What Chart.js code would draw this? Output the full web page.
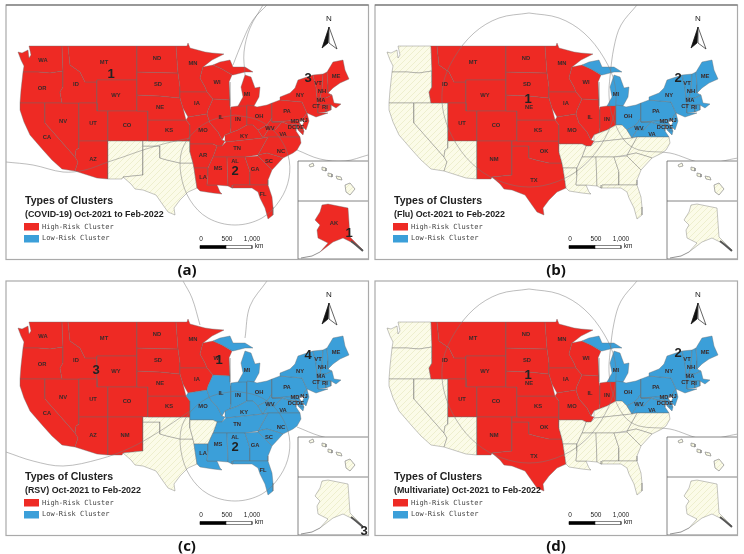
<!DOCTYPE html>
<html>
<head>
<meta charset="utf-8">
<title>Types of Clusters</title>
<script src="https://cdn.jsdelivr.net/npm/chart.js@4.4.0/dist/chart.umd.js"></script>
<style>
  html, body { margin: 0; background: #fff; }
  #page { position: relative; width: 744px; height: 554px; overflow: hidden; }
  canvas { position: absolute; filter: blur(0.3px); }
</style>
</head>
<body>
<div id="page">
  <canvas id="panelA" width="375" height="278" style="left:0;top:0"></canvas>
  <canvas id="panelB" width="375" height="278" style="left:369px;top:0"></canvas>
  <canvas id="panelC" width="375" height="278" style="left:0;top:276px"></canvas>
  <canvas id="panelD" width="375" height="278" style="left:369px;top:276px"></canvas>
</div>
<script>
// state outlines, in panel pixels
const WA = [[29,46],[62,46],[63,71],[50,73],[38,72],[23,72],[24,66],[21,60],[18,52],[22,53],[28,50],[29,58],[31,55]];
const OR = [[23,72],[38,72],[50,73],[63,71],[63,87],[60,92],[62,103],[45,103],[20,103],[21,90]];
const CA = [[20,103],[45,103],[45,123],[75,157],[78,162],[75,171],[62,169],[52,160],[43,150],[30,135],[24,122],[20,110]];
const NV = [[45,103],[62,103],[79,103],[79,148],[76,150],[75,157],[45,123]];
const ID = [[62,46],[68,46],[70,65],[80,72],[85,82],[97,82],[97,103],[62,103],[60,92],[63,87],[63,71]];
const MT = [[68,46],[137,46],[137,80],[97,80],[97,82],[85,82],[80,72],[70,65]];
const WY = [[97,80],[137,80],[137,111],[97,111]];
const UT = [[79,103],[97,103],[97,111],[108,111],[108,141],[79,141]];
const CO = [[108,111],[148,111],[148,141],[108,141]];
const AZ = [[79,141],[108,141],[108,179],[97,178],[75,171],[78,162],[75,157],[76,150],[79,148]];
const NM = [[108,141],[143,141],[143,175],[123,177],[122,179],[108,179]];
const TX = [[143,146],[160,146],[160,158],[167,160],[180,163],[193,163],[194,168],[197,188],[188,192],[180,200],[174,208],[175,215],[168,212],[163,205],[156,195],[143,190],[135,189],[131,184],[123,177],[143,175]];
const OK = [[143,141],[190,141],[190,152],[193,163],[180,163],[167,160],[160,158],[160,146],[143,146]];
const KS = [[148,120],[186,120],[190,125],[190,141],[148,141]];
const NE = [[137,95],[160,96],[180,98],[183,108],[186,120],[148,120],[148,111],[137,111]];
const SD = [[137,72],[178,73],[180,87],[180,98],[160,96],[137,95]];
const ND = [[137,46],[176,46],[178,73],[137,72]];
const MN = [[176,46],[187,46],[188,43],[190,48],[205,52],[212,53],[224,54],[212,60],[203,67],[200,78],[205,87],[207,92],[180,92],[180,87],[178,73]];
const IA = [[180,92],[207,92],[213,99],[208,110],[207,114],[188,117],[183,108],[180,98]];
const MO = [[188,117],[207,114],[210,123],[218,132],[222,140],[225,141],[222,146],[217,146],[213,144],[190,144],[190,125],[186,120]];
const WI = [[203,67],[213,65],[222,69],[232,75],[229,82],[230,100],[213,99],[207,92],[205,87],[200,78]];
const IL = [[213,99],[230,100],[230,106],[231,110],[231,128],[230,133],[225,135],[222,140],[218,132],[210,123],[207,114],[208,110]];
const IN = [[231,107],[238,106],[247,105],[247,125],[238,130],[230,133],[231,128]];
const MI_UP = [[213,65],[220,62],[230,60],[233,67],[245,67],[253,72],[245,72],[233,75],[232,75],[222,69]];
const MI_LOW = [[245,75],[251,77],[255,88],[260,87],[259,97],[254,106],[238,106],[243,97],[241,87]];
const OH = [[247,105],[254,106],[257,107],[267,105],[272,103],[272,118],[267,125],[258,130],[253,125],[247,125]];
const KY = [[225,141],[225,135],[230,133],[238,130],[247,125],[253,125],[258,130],[263,138],[226,142]];
const WV = [[258,130],[267,125],[272,118],[272,122],[282,122],[275,130],[268,130],[263,138]];
const PA = [[272,103],[280,100],[302,102],[307,113],[302,120],[272,122],[272,118]];
const NY = [[280,100],[280,97],[290,93],[295,88],[298,80],[313,75],[316,87],[317,98],[318,105],[318,113],[328,113],[316,117],[307,113],[302,102]];
const VT = [[313,75],[323,74],[322,90],[320,98],[317,98],[316,87]];
const NH = [[323,74],[327,72],[328,85],[328,93],[332,95],[326,98],[320,98],[322,90]];
const ME = [[327,72],[333,62],[343,60],[345,70],[349,79],[340,83],[333,88],[328,93],[328,85]];
const MA = [[317,98],[320,98],[326,98],[332,95],[334,103],[341,104],[336,108],[331,105],[326,105],[318,105]];
const CT = [[318,105],[326,105],[326,112],[318,113]];
const RI = [[326,105],[331,105],[331,110],[326,112]];
const NJ = [[307,113],[309,121],[306,130],[302,126],[305,120],[302,120]];
const DE = [[299,122],[302,126],[304,131],[300,131]];
const MD = [[272,122],[302,120],[299,122],[300,131],[304,131],[303,135],[298,130],[296,124],[290,125],[282,122]];
const DC = [[288,124],[291,124],[291,127],[288,127]];
const VA = [[263,138],[268,130],[275,130],[282,122],[290,125],[296,124],[296,131],[300,137],[268,137]];
const NC = [[268,137],[300,137],[301,143],[297,150],[293,153],[283,158],[277,156],[267,153],[258,155]];
const TN = [[222,146],[226,142],[263,138],[268,137],[258,155],[245,157],[213,157],[217,146]];
const AR = [[190,144],[213,144],[217,146],[213,157],[208,168],[194,168],[193,163],[190,152]];
const LA = [[194,168],[208,168],[208,175],[207,185],[217,185],[220,192],[222,194],[213,193],[200,191],[197,188]];
const MS = [[213,157],[227,157],[228,186],[217,185],[207,185],[208,175],[208,168]];
const AL = [[227,157],[245,157],[250,172],[250,185],[233,185],[232,188],[228,186]];
const GA = [[245,157],[258,156],[272,170],[268,180],[268,185],[250,185],[250,172]];
const SC = [[258,155],[267,153],[277,156],[283,158],[272,170],[258,156]];
const FL = [[232,188],[233,185],[250,185],[268,185],[272,197],[273,207],[273,215],[268,219],[265,208],[260,198],[258,192],[252,188]];
const AK = [[322,205],[328,204],[348,208],[350,237],[363,250],[353,243],[343,238],[333,242],[320,252],[328,243],[318,238],[317,230],[320,225],[315,220],[320,212]];
const HI_BIG = [[345,185],[350,183],[355,189],[350,195],[346,192]];
const HI_MAUI = [[336,176],[341,177],[342,180],[337,179]];
const HI_OAHU = [[328,173],[332,174],[332,177],[328,176]];
const HI_KAUAI = [[322,167],[326,168],[326,171],[322,170]];
const HI_NI = [[309,165],[313,163],[314,166],[310,167]];

const shapes = { WA, OR, CA, NV, ID, MT, WY, UT, CO, AZ, NM, TX, OK, KS, NE, SD, ND, MN, IA, MO, WI, IL, IN,
  MI_UP, MI_LOW, OH, KY, WV, PA, NY, VT, NH, ME, MA, CT, RI, NJ, DE, MD, DC, VA, NC, TN, AR, LA, MS, AL, GA, SC, FL, AK };
const hawaii = [HI_BIG, HI_MAUI, HI_OAHU, HI_KAUAI, HI_NI];

// which state falls in which cluster, per panel
const lowFlu = ['MI_UP','MI_LOW','OH','PA','NY','VT','NH','ME','MA','CT','RI','NJ','MD','DC','DE','WV','VA'];
const highFlu = ['MT','ID','WY','ND','SD','NE','MN','IA','WI','IL','IN','MO','KS','CO','UT','NM','OK','TX'];
const highCovid = Object.keys(shapes).filter(s => !['NM','TX','OK'].includes(s));
const highRsv = ['WA','OR','CA','NV','ID','MT','WY','UT','AZ','NM','CO','ND','SD','NE','KS','MN','IA','WI'];
const lowRsv = ['MI_UP','MI_LOW','IL','IN','OH','MO','KY','TN','MS','AL','GA','FL','SC','NC','VA','WV','PA','NY','VT','NH','ME','MA','CT','RI','NJ','MD','DC','DE','LA'];

// state abbreviations: name, x, y
const stateLabels = [['WA',43,60],['MT',104,62],['ND',157,58],['MN',193,63],['ME',336,76],['VT',318,83],['NH',322,91],
  ['MA',321,100],['CT',316,106],['RI',325,107],['NY',300,95],['OR',42,88],['ID',76,84],['WY',116,95],['SD',158,84],
  ['NE',160,107],['IA',197,103],['WI',217,82],['MI',247,94],['IL',221,117],['IN',238,119],['OH',259,116],['PA',287,111],
  ['MD',295,121],['NJ',304,120],['DC',292,127],['DE',300,127],['WV',270,128],['VA',283,134],['KY',244,136],['NV',63,121],
  ['UT',93,123],['CO',127,125],['KS',169,130],['MO',203,130],['CA',47,137],['AZ',93,159],['TN',237,148],['NC',281,151],
  ['AR',203,155],['MS',218,168],['AL',235,161],['SC',269,161],['GA',255,169],['LA',203,177],['FL',263,194],['AK',334,223],
  ['NM',125,159],['OK',175,151],['TX',165,180]];

// cluster numbers: text, x, y
const numbersA = [['1',111,74],['3',308,78],['2',235,171],['1',349,233]];
const numbersB = [['1',159,99],['2',309,78]];
const numbersC = [['1',219,84],['3',96,94],['4',308,79],['2',235,171],['3',364,255]];
const numbersD = [['1',159,99],['2',309,77]];

// thin buffer circles
const ringSouth = [[235,115],[258,120],[276,133],[288,155],[289,178],[280,200],[262,218],[235,225],[208,218],[190,200],[181,175],[182,150],[194,132],[212,120],[235,115]];
const arcWestA = [[6,162],[33,165],[63,172],[85,170],[108,162],[123,157],[143,150],[167,143],[190,138]];
const arcNorthA1 = [[267,5],[253,20],[243,40],[233,65]];
const arcNorthA2 = [[263,5],[250,28],[244,52],[245,75]];
const arcEastA = [[297,150],[320,159],[345,161],[368,155]];
const arcWestC = [[6,176],[33,185],[63,190],[100,183],[130,172],[157,157],[190,135]];
const arcNorthC1 = [[183,5],[192,22],[200,49]];
const arcNorthC2 = [[267,5],[250,30],[245,62]];
const arcEastC = [[297,151],[320,160],[345,165],[368,163]];
const ringMid = [[160,13],[190,18],[215,33],[235,58],[246,85],[245,115],[232,145],[212,168],[187,182],[160,187],[133,182],[108,168],[88,145],[75,115],[74,85],[85,58],[105,33],[130,18],[160,13]];
const arcEastB = [[268,5],[252,25],[245,47],[241,77],[240,95],[243,115],[255,140],[270,150],[301,153],[335,163],[369,158]];

// north arrow and scale bar
const arrowLeft = [[329,27],[322,48],[328,43]];
const arrowRight = [[329,27],[337,49],[329,43]];
const barBlack = [[200,245.5],[226,245.5],[226,248.5],[200,248.5]];
const barWhite = [[226,245.5],[252,245.5],[252,248.5],[226,248.5]];
const scaleTicks = [['0',201],['500',227],['1,000',252]];

// Alaska bits that are not in the main outline
const panhandle = [[351,241],[356,245],[363,251]];
const aleutians = [[301,258],[312,256],[320,252]];

const panels = [
  { id: 'panelA', caption: '(a)', sub: '(COVID-19) Oct-2021 to Feb-2022', high: highCovid, low: [], numbers: numbersA, darkTop: true,
    lines: [ringSouth, arcWestA, arcNorthA1, arcNorthA2, arcEastA] },
  { id: 'panelB', caption: '(b)', sub: '(Flu) Oct-2021 to Feb-2022', high: highFlu, low: lowFlu, numbers: numbersB, darkTop: true,
    lines: [ringMid, arcEastB] },
  { id: 'panelC', caption: '(c)', sub: '(RSV) Oct-2021 to Feb-2022', high: highRsv, low: lowRsv, numbers: numbersC,
    lines: [ringSouth, arcWestC, arcNorthC1, arcNorthC2, arcEastC] },
  { id: 'panelD', caption: '(d)', sub: '(Multivariate) Oct-2021 to Feb-2022', high: highFlu, low: lowFlu, numbers: numbersD,
    lines: [ringMid, arcEastB] }
];

const RED = '#ee2a24';
const BLUE = '#3b9fd9';
const EDGE = 'rgba(105,105,105,0.55)';

function crearTrama() {
  const c = document.createElement('canvas');
  c.width = 6; c.height = 6;
  const g = c.getContext('2d');
  g.fillStyle = '#fbfbe8';
  g.fillRect(0, 0, 6, 6);
  g.strokeStyle = '#ebecc6';
  g.lineWidth = 0.8;
  g.beginPath();
  g.moveTo(-1, 7); g.lineTo(7, -1);
  g.moveTo(-1, 1); g.lineTo(1, -1);
  g.moveTo(5, 7); g.lineTo(7, 5);
  g.stroke();
  return c;
}

function toPoints(ring, closed) {
  const pts = ring.map(p => ({ x: p[0], y: p[1] }));
  if (closed) pts.push({ x: ring[0][0], y: ring[0][1] });
  return pts;
}

function polygon(ring, fillColor, edge, width) {
  return { data: toPoints(ring, true), showLine: true, fill: false, polyFill: fillColor,
    borderColor: edge, borderWidth: width, pointRadius: 0, tension: 0 };
}

function stroke(ring, color, width, tension) {
  return { data: toPoints(ring, false), showLine: true, fill: false, borderColor: color,
    borderWidth: width, pointRadius: 0, tension: tension || 0 };
}

// fills a closed dataset from the points the scales placed
const polyFillPlugin = {
  id: 'polyFill',
  beforeDatasetDraw(chart, args) {
    const color = chart.data.datasets[args.index].polyFill;
    if (!color) return;
    const g = chart.ctx;
    g.save();
    g.beginPath();
    args.meta.data.forEach((el, i) => i ? g.lineTo(el.x, el.y) : g.moveTo(el.x, el.y));
    g.closePath();
    g.fillStyle = color;
    g.fill();
    g.restore();
  }
};

function buildPanel(panel) {
  const ctx = document.getElementById(panel.id).getContext('2d');
  const hatch = ctx.createPattern(crearTrama(), 'repeat');
  const paint = [];
  const colorOf = name => panel.high.includes(name) ? RED : panel.low.includes(name) ? BLUE : hatch;

  Object.keys(shapes).forEach(name => {
    if (name !== 'AK') paint.push(polygon(shapes[name], colorOf(name), EDGE, 0.7));
  });
  panel.lines.forEach(l => paint.push(stroke(l, 'rgba(120,120,120,0.7)', 0.7, 0.35)));

  // insets go over the buffer lines
  const west = 298, right = 368.5, top = 161, mid = 201, bottom = 259;
  paint.push(polygon([[west,top],[right,top],[right,bottom],[west,bottom]], '#fff', '#666', 0.8));
  paint.push(stroke([[west,mid],[right,mid]], '#666', 0.8));
  hawaii.forEach(h => paint.push(polygon(h, hatch, '#777', 0.6)));
  paint.push(polygon(AK, colorOf('AK'), EDGE, 0.7));
  paint.push(stroke(panhandle, '#555', 2));
  paint.push(stroke(aleutians, '#777', 0.8));

  // north arrow and scale bar
  paint.push(polygon(arrowLeft, '#111', '#111', 0.7));
  paint.push(polygon(arrowRight, '#fff', '#222', 0.7));
  paint.push(polygon(barBlack, '#000', '#000', 0.6));
  paint.push(polygon(barWhite, '#fff', '#333', 0.6));

  const textPlugin = {
    id: 'mapText',
    afterDatasetsDraw(chart) {
      const g = chart.ctx;
      const xs = chart.scales.x, ys = chart.scales.y;
      const at = (txt, x, y) => g.fillText(txt, xs.getPixelForValue(x), ys.getPixelForValue(y));
      g.save();
      g.textBaseline = 'middle';
      g.textAlign = 'center';
      g.fillStyle = '#3a2a2a';
      g.font = 'bold 5.8px "Liberation Sans"';
      stateLabels.forEach(l => {
        const key = l[0] === 'MI' ? 'MI_LOW' : l[0];
        if (panel.high.includes(key) || panel.low.includes(key)) at(l[0], l[1], l[2]);
      });
      g.fillStyle = '#222';
      g.font = 'bold 13px "Liberation Sans"';
      panel.numbers.forEach(n => at(n[0], n[1], n[2]));
      g.font = '8px "Liberation Sans"';
      at('N', 329, 19);
      g.font = '6.5px "Liberation Sans"';
      scaleTicks.forEach(t => at(t[0], t[1], 239));
      at('km', 259, 246.5);
      g.textAlign = 'left';
      g.fillStyle = '#222';
      g.font = 'bold 10.6px "Liberation Sans"';
      at('Types of Clusters', 25, 201);
      g.font = 'bold 8.9px "Liberation Sans"';
      at(panel.sub, 25, 215);
      g.fillStyle = '#444';
      g.font = '7px "DejaVu Sans Mono"';
      at('High-Risk Cluster', 42, 227);
      at('Low-Risk Cluster', 42, 238);
      g.fillStyle = RED;
      g.fillRect(xs.getPixelForValue(24), ys.getPixelForValue(223), 15, 7.5);
      g.fillStyle = BLUE;
      g.fillRect(xs.getPixelForValue(24), ys.getPixelForValue(235), 15, 7.5);
      g.textAlign = 'center';
      g.fillStyle = '#111';
      g.font = 'bold 15px "Open Sans"';
      at(panel.caption, 187, 271);
      // map frame
      const fx = xs.getPixelForValue(6), fr = xs.getPixelForValue(368.5);
      const ft = ys.getPixelForValue(5), fb = ys.getPixelForValue(259.5);
      g.strokeStyle = '#aaa';
      g.lineWidth = 1.2;
      g.strokeRect(fx, ft, fr - fx, fb - ft);
      if (panel.darkTop) {
        g.strokeStyle = '#666';
        g.beginPath();
        g.moveTo(fx, ft);
        g.lineTo(fr, ft);
        g.stroke();
      }
      g.restore();
    }
  };

  new Chart(ctx, {
    type: 'scatter',
    data: { datasets: paint.reverse() }, // dataset 0 is painted last
    options: {
      responsive: false,
      animation: false,
      events: [],
      layout: { padding: 0 },
      plugins: { legend: { display: false }, tooltip: { enabled: false } },
      scales: {
        x: { type: 'linear', display: false, min: 0, max: 375 },
        y: { type: 'linear', display: false, min: 0, max: 278, reverse: true }
      }
    },
    plugins: [polyFillPlugin, textPlugin]
  });
}

panels.forEach(buildPanel);
</script>
</body>
</html>
